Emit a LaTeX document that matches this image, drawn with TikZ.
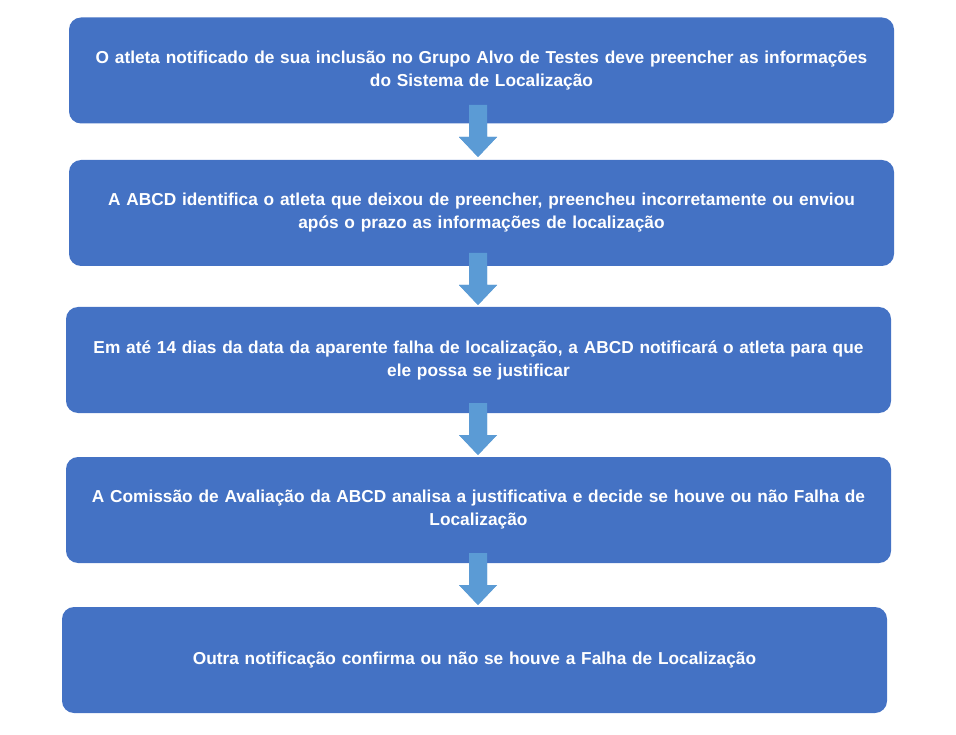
\documentclass[tikz,border=0pt]{standalone}
\usepackage{fontspec}
\setmainfont{Liberation Sans}
\definecolor{boxBlue}{HTML}{4472C4}
\definecolor{arrowBlue}{HTML}{5B9BD5}
\tikzset{
  stepbox/.style={fill=boxBlue, draw=none, rounded corners=12pt, minimum width=825pt,
    minimum height=106pt, text width=800pt, align=center, text=white,
    font=\bfseries\fontsize{17.3}{23}\selectfont},
  downarrow/.style={fill=arrowBlue, draw=none}
}
\begin{document}
\begin{tikzpicture}[x=1pt,y=-1pt]
\useasboundingbox (0,0) rectangle (956,735);
% the arrows
\foreach \y in {105,253,403,553}
  \fill[downarrow] (469,\y) -- (487,\y) -- (487,\y+32) -- (497,\y+32) -- (478,\y+52)
     -- (459,\y+32) -- (469,\y+32) -- cycle;
% the steps
\node[stepbox] (s1) at (481.5,70.5) {O atleta notificado de sua inclusão no Grupo Alvo de Testes deve preencher as informações\\do Sistema de Localização};
\node[stepbox] (s2) at (481.5,213) {A ABCD identifica o atleta que deixou de preencher, preencheu incorretamente ou enviou\\após o prazo as informações de localização};
\node[stepbox] (s3) at (478.5,360) {Em até 14 dias da data da aparente falha de localização, a ABCD notificará o atleta para que\\ele possa se justificar};
\node[stepbox] (s4) at (478.5,510) {A Comissão de Avaliação da ABCD analisa a justificativa e decide se houve ou não Falha de\\Localização};
\node[stepbox] (s5) at (474.5,660) {Outra notificação confirma ou não se houve a Falha de Localização};
\foreach \y in {105,253,403,553}
  \fill[downarrow] (469,\y) -- (487,\y) -- (487,\y+32) -- (497,\y+32) -- (478,\y+52)
     -- (459,\y+32) -- (469,\y+32) -- cycle;
\end{tikzpicture}
\end{document}
